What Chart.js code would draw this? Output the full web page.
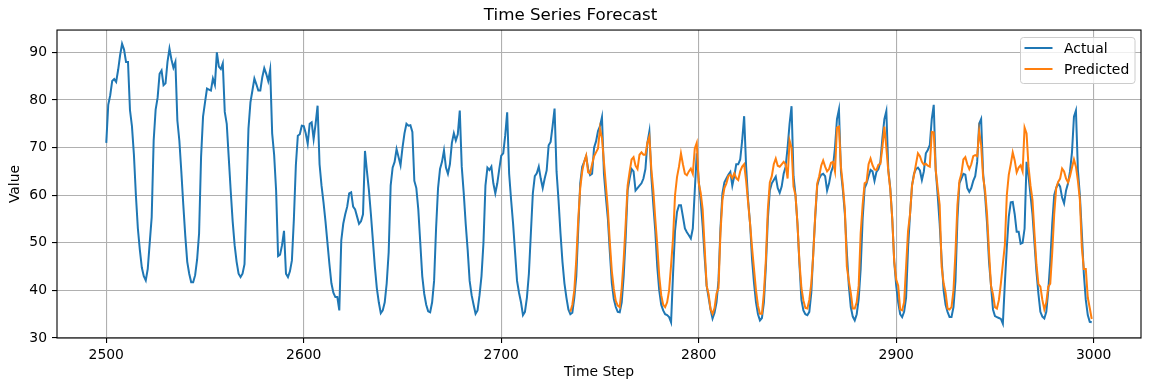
<!DOCTYPE html>
<html>
<head>
<meta charset="utf-8">
<script src="https://cdn.jsdelivr.net/npm/chart.js@4.4.1/dist/chart.umd.min.js"></script>
<style>
  html, body { margin: 0; padding: 0; background: #ffffff; }
  #c { display: block; }
</style>
</head>
<body>
<canvas id="c" width="1152" height="391"></canvas>
<script>
const startStep = 2500;
const actual = [
71,79,81,84,84.4,83.8,86.3,89.4,91.8,90.6,
88,88,77.9,74.5,68.5,60,53,48.5,44.8,43,
42.1,44.5,50,55.4,71.5,78,80.5,85.5,86.2,83.1,
83.5,88,90.8,88.5,86.8,88,75.7,71.5,65,58,
51.5,46,43.5,41.7,41.7,43.2,46.5,52,68,76.5,
79.5,82.4,82.2,82,84.5,83.2,90,87,86.5,87.7,
77.5,75,68,61,54.5,49.5,46,43.5,42.8,43.5,
45.5,60,74,79.5,82,84.5,83.3,82,82,84.8,
86.7,85.5,84,86.4,73,68.5,61,47.2,47.5,49.5,
52.5,43.5,42.8,44,46.3,55,66.3,72.5,72.8,74.6,
74.5,73,70.8,75,75.3,71.8,75,78.8,66.5,62,
58.5,54.5,50,45.5,41.5,39.5,38.6,38.6,35.8,50.5,
54,56,57.6,60.4,60.6,57.6,57,55.5,54,54.5,
56,69.3,65,61,56,50.5,45,40.5,37.5,35.2,
35.8,37.5,41.5,48,62,65.8,67,69.7,68,66.3,
70,73,75,74.6,74.7,73.3,63,61.5,57,50,
43,39.3,37,35.6,35.4,37.5,42,53,61.5,65.5,
67,69.4,65.8,64.5,66.5,71,73,71.5,72.8,77.8,
66,60.5,54,48.5,42,39,37,35.1,35.8,39,
43,50,62,65.8,65.3,66,62.5,60.4,62.5,65.5,
68.3,68.8,72.5,77.4,64.5,59,54,48,42,39.5,
37.5,34.8,35.5,38.5,43.5,52,60.4,64,64.6,66,
63.5,61.5,63.5,65.2,70.5,71.2,74.5,78.2,65,59,
52,46,41.5,38.5,36,35,35.3,38.5,43,53,
62.5,66,67,68.2,65.5,64.2,64.5,70,71.3,73.5,
74.5,76.4,64.5,59.5,55,48,41.5,38.2,36.5,35.5,
35.4,37.5,43,51,61,63.5,65.5,65,61,61.5,
62,62.5,63.5,65.5,71,73.4,64,58,52.5,45,
40,37,35.8,35,34.8,34.4,33.3,43.5,52.5,56.5,
57.9,57.9,55.5,53,52.2,51.6,50.9,53,61,68.8,
63,58.8,53.5,47,41,38.5,36,34.1,35.3,37.5,
42,53,60.4,62.7,63.5,64.3,64.9,62,64,66.5,
66.5,67.5,71.5,76.6,66,59,54,46.5,41.5,37.5,
35,33.7,34.2,37.5,45,55,61,62.5,63.2,63.9,
61.5,60.5,61.8,64.5,66,70,75,78.7,64,60,
54,45.5,38,35.8,35,34.8,35.5,39.5,48,55.5,
62,63.5,64.3,64.5,64,61,62.5,64.8,66,70,
76,78,65,61,56,48,41,36.5,34.5,33.7,
35,38.2,44.5,55,61.5,62.5,64,65.3,65,63,
64.9,65.5,67,72,76,77.7,65.3,61.5,55,46,
41,37.5,35,34.4,35.5,38.5,49,56,62,64.5,
65.5,65.8,65.2,63.2,65,68.8,69.5,70.5,76,79,
65.3,60,54,46.5,40,37,35.5,34.4,34.4,36.5,
42,55,62.5,63.5,64.5,64.3,61.5,60.7,61.5,63,
64,67,75,76,64.6,60,54,46,41,36,
34.6,34.4,34.2,34,33,41.4,49,55.5,58.5,58.6,
56,52.3,52.3,49.8,50,53,67,64,60,56,
50,44,39.3,35.5,34.5,34.1,35.5,40,46,54,
60,61.5,62.5,61.8,59.5,58.3,61,62.5,65,69,
76.5,77.8,65.3,60,52,43.5,38,34.8,33.4,33.3
];
const predStart = 2735;
const predicted = [
35.5,37,40,46.5,55,
61.5,65,67,68.3,64.8,64.6,66.5,68.2,69,69.8,
74,72,67,62,57,50,44,40.3,37.8,36.8,
36.5,40.5,46.5,54,62,64.9,67.5,68,66.2,65.5,
68.5,69,68.5,68.5,71,72.3,65.5,61,55,49.5,
43,39,37,36.5,37.5,40,45.3,51,60,63.8,
66,68.8,66.5,64.5,64.2,65,65.6,64.5,69.8,71,
62.5,60.5,57,49,41,39.2,36,35.1,36.3,39.3,
40.5,52,59,61.5,62.5,64,64.3,63.6,64.6,63.6,
63.2,65,66,66.5,63,58.5,54,49,44.5,40,
36.8,35.1,35.1,39.5,46.5,57,62.7,64,66.5,67.7,
66.2,66,66.5,67,66.5,63.5,71.5,70,61.8,60,
54,46,40.5,37.9,36.3,36.2,38,41.5,47.5,56,
62.5,64,66.2,67.3,66,65,65.5,66.8,67,65,
74.2,74.4,66,62,57,45,42,39.5,36.2,36.2,
37.5,41,52,58,62.5,62.8,66.5,67.7,66.3,65.4,
65.3,66.4,66.6,70,74.4,70,65,61.2,55,46,
42.3,41,36,35.8,37.5,45,52.5,56,62,64.2,
66.5,68.8,68.2,67,66.4,66.6,66.2,66,73.3,73.2,
65.3,61.5,58,45,41.5,39.5,36.2,36,36.5,40,
48,58,63,64.5,67.5,68,66.5,65.5,66.5,68.2,
68.4,68.2,73.5,70.5,63.8,61,56,48,41,39.2,
36.5,36.2,38,41.5,45.6,49.5,60,64.3,66.5,69,
67.3,64.8,65.8,66.3,65,74.2,73,66,62,59,
52,45.5,41.3,40.8,38,36,37.5,40.8,41.4,48,
56,61.5,62.8,63.5,65.6,65,63.5,62.7,64,65.8,
67.5,66,63,59,49,44.5,44.5,38.5,36.3,34
];
const xTicks = [2500, 2600, 2700, 2800, 2900, 3000];
const yTicks = [30, 40, 50, 60, 70, 80, 90];
const seriesNames = ['Actual', 'Predicted'];
const seriesColors = ['#1f77b4', '#ff7f0e'];

const actualPts = actual.map((v, i) => ({ x: startStep + i, y: v }));
const predPts = predicted.map((v, i) => ({ x: predStart + i, y: v }));

Chart.defaults.font.family = 'DejaVu Sans';
Chart.defaults.font.size = 13.9;
Chart.defaults.color = '#000';

const tickFont = { family: 'DejaVu Sans', size: 13.9 };

const framePlugin = {
  id: 'frame',
  afterDatasetsDraw(chart) {
    const a = chart.chartArea;
    const ctx = chart.ctx;
    ctx.save();
    ctx.strokeStyle = '#000';
    ctx.lineWidth = 1.1;
    ctx.strokeRect(a.left, a.top, a.right - a.left, a.bottom - a.top);
    ctx.restore();
  }
};

const legendPlugin = {
  id: 'mplLegend',
  afterDraw(chart) {
    const ctx = chart.ctx;
    const bx = 1020.5, by = 37.5, bw = 114.5, bh = 46, r = 3;
    ctx.save();
    ctx.beginPath();
    ctx.moveTo(bx + r, by);
    ctx.lineTo(bx + bw - r, by);
    ctx.quadraticCurveTo(bx + bw, by, bx + bw, by + r);
    ctx.lineTo(bx + bw, by + bh - r);
    ctx.quadraticCurveTo(bx + bw, by + bh, bx + bw - r, by + bh);
    ctx.lineTo(bx + r, by + bh);
    ctx.quadraticCurveTo(bx, by + bh, bx, by + bh - r);
    ctx.lineTo(bx, by + r);
    ctx.quadraticCurveTo(bx, by, bx + r, by);
    ctx.closePath();
    ctx.fillStyle = 'rgba(255,255,255,0.8)';
    ctx.fill();
    ctx.strokeStyle = '#cccccc';
    ctx.lineWidth = 1;
    ctx.stroke();
    const rows = [48, 69];
    ctx.font = '13.9px "DejaVu Sans"';
    ctx.textBaseline = 'middle';
    ctx.textAlign = 'left';
    for (let k = 0; k < seriesNames.length; k++) {
      ctx.beginPath();
      ctx.strokeStyle = seriesColors[k];
      ctx.lineWidth = 2;
      ctx.moveTo(1024.5, rows[k]);
      ctx.lineTo(1052.5, rows[k]);
      ctx.stroke();
      ctx.fillStyle = '#000';
      ctx.fillText(seriesNames[k], 1064, rows[k] + 1);
    }
    ctx.restore();
  }
};

new Chart(document.getElementById('c').getContext('2d'), {
  type: 'line',
  data: {
    datasets: [
      { label: seriesNames[0], data: actualPts, borderColor: seriesColors[0], backgroundColor: seriesColors[0],
        borderWidth: 2, pointRadius: 0, tension: 0, fill: false, order: 2 },
      { label: seriesNames[1], data: predPts, borderColor: seriesColors[1], backgroundColor: seriesColors[1],
        borderWidth: 2, pointRadius: 0, tension: 0, fill: false, order: 1 }
    ]
  },
  options: {
    responsive: false,
    animation: false,
    devicePixelRatio: 1,
    events: [],
    layout: { padding: { left: 0, right: 11, top: 0, bottom: 0 } },
    plugins: {
      legend: { display: false },
      tooltip: { enabled: false },
      title: {
        display: true,
        text: 'Time Series Forecast',
        color: '#000',
        font: { family: 'DejaVu Sans', size: 16.7, weight: 'normal' },
        padding: { top: 6, bottom: 4 }
      }
    },
    scales: {
      x: {
        type: 'linear',
        min: 2475.05,
        max: 3023.95,
        afterBuildTicks: s => { s.ticks = xTicks.map(v => ({ value: v })); },
        afterFit: s => { s.height = 53; },
        ticks: { font: tickFont, color: '#000', padding: 4, maxRotation: 0, autoSkip: false,
                 callback: v => String(v) },
        grid: { color: '#b0b0b0', lineWidth: 1.1, tickColor: '#000', tickLength: 5, tickWidth: 1.1 },
        border: { display: false },
        title: { display: true, text: 'Time Step', color: '#000', font: tickFont, padding: { top: 0, bottom: 10 } }
      },
      y: {
        type: 'linear',
        min: 30,
        max: 94.7,
        afterBuildTicks: s => { s.ticks = yTicks.map(v => ({ value: v })); },
        afterFit: s => { s.width = 57; },
        ticks: { font: tickFont, color: '#000', padding: 5, autoSkip: false, callback: v => String(v) },
        grid: { color: '#b0b0b0', lineWidth: 1.1, tickColor: '#000', tickLength: 5, tickWidth: 1.1 },
        border: { display: false },
        title: { display: true, text: 'Value', color: '#000', font: tickFont, padding: { top: 7, bottom: 0 } }
      }
    }
  },
  plugins: [framePlugin, legendPlugin]
});
</script>
</body>
</html>
